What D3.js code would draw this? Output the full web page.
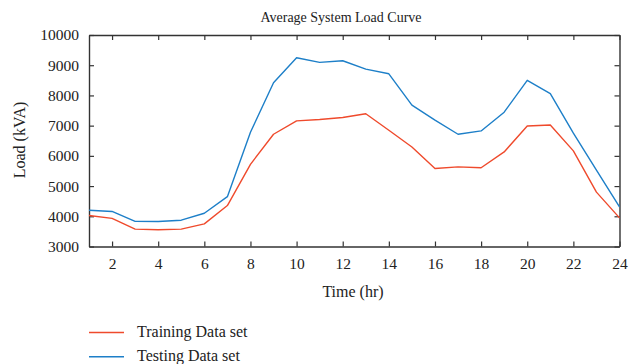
<!DOCTYPE html>
<html><head><meta charset="utf-8">
<script src="https://cdn.jsdelivr.net/npm/d3@7"></script>
<style>body{margin:0;background:#fff}svg{display:block}text{font-family:"Liberation Serif","Times New Roman",serif;fill:#222}</style>
</head><body><svg id="c" width="641" height="364"></svg>
<script>
const hours = d3.range(1, 25);
const training = [4025,3930,3575,3555,3575,3750,4355,5720,6715,7157,7201,7268,7395,6848,6295,5580,5635,5605,6130,6990,7020,6166,4800,3947];
const testing  = [4200,4160,3830,3827,3871,4100,4650,6780,8418,9247,9093,9147,8872,8716,7677,7180,6715,6825,7445,8500,8060,6750,5530,4310];
const xTicks = [2,4,6,8,10,12,14,16,18,20,22,24];
const yTicks = [3000,4000,5000,6000,7000,8000,9000,10000];
const seriesNames = ["Training Data set","Testing Data set"];
const colors = ["#ef4a2c","#1d7fc8"];

const svg = d3.select("#c");
const L=89, R=619.5, T=35, B=246.5;
const x = d3.scaleLinear().domain([1,24]).range([L,R]);
const y = d3.scaleLinear().domain([3000,10000]).range([B,T]);

const axCol="#333";
const tl=5;
const fs=15.5;
const gb = svg.append("g").attr("transform",`translate(0,${B})`)
  .call(d3.axisBottom(x).tickValues(xTicks).tickSizeInner(-tl).tickSizeOuter(0).tickPadding(11).tickFormat(d3.format("d")));
const gt = svg.append("g").attr("transform",`translate(0,${T})`)
  .call(d3.axisTop(x).tickValues(xTicks).tickSizeInner(-tl).tickSizeOuter(0).tickFormat(""));
const gl = svg.append("g").attr("transform",`translate(${L},0)`)
  .call(d3.axisLeft(y).tickValues(yTicks).tickSizeInner(-tl).tickSizeOuter(0).tickPadding(10).tickFormat(d3.format("d")));
const gr = svg.append("g").attr("transform",`translate(${R},0)`)
  .call(d3.axisRight(y).tickValues(yTicks).tickSizeInner(-tl).tickSizeOuter(0).tickFormat(""));
[gb,gt,gl,gr].forEach(g=>{
  g.selectAll("path.domain").attr("stroke",axCol).attr("stroke-width",1.4);
  g.selectAll(".tick line").attr("stroke",axCol).attr("stroke-width",1.2);
  g.selectAll("text").attr("font-size",fs).attr("font-family","Liberation Serif, serif").attr("fill","#222");
});

const line = d3.line().x((d,i)=>x(hours[i])).y(d=>y(d));
[training,testing].forEach((s,k)=>{
  svg.append("path").datum(s).attr("d",line).attr("fill","none")
    .attr("stroke",colors[k]).attr("stroke-width",1.4).attr("stroke-linejoin","round");
});

svg.append("text").attr("x",341).attr("y",22).attr("text-anchor","middle").attr("font-size",14).text("Average System Load Curve");
svg.append("text").attr("x",353).attr("y",297).attr("text-anchor","middle").attr("font-size",16).text("Time (hr)");
svg.append("text").attr("transform","translate(25,140) rotate(-90)").attr("text-anchor","middle").attr("font-size",16).text("Load (kVA)");

const leg = svg.append("g");
seriesNames.forEach((n,k)=>{
  const yy = 332.5 + k*24.3;
  leg.append("line").attr("x1",89).attr("x2",124).attr("y1",yy).attr("y2",yy).attr("stroke",colors[k]).attr("stroke-width",1.4);
  leg.append("text").attr("x",137).attr("y",yy+4.5).attr("font-size",16).text(n);
});
</script></body></html>
